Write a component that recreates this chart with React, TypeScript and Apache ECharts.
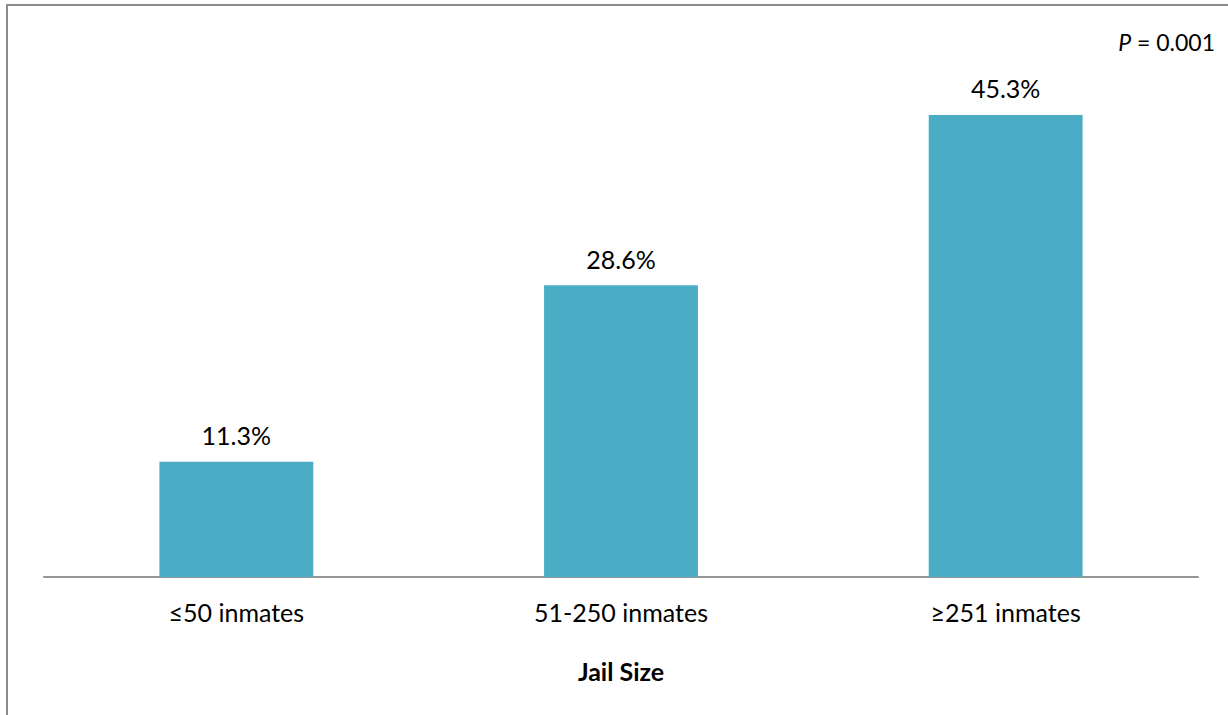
import React, { useEffect, useRef } from "react";
import * as echarts from "echarts";

const categories = ["≤50 inmates", "51-250 inmates", "≥251 inmates"];
const values = [11.3, 28.6, 45.3];
const axisTitle = "Jail Size";
const pValue = "0.001";

export default function App() {
  const ref = useRef<HTMLDivElement>(null);
  useEffect(() => {
    if (!ref.current) return;
    const chart = echarts.init(ref.current, null, { renderer: "svg" });
    const font = "Lato, 'Open Sans', sans-serif";
    chart.setOption({
      animation: false,
      backgroundColor: "#ffffff",
      grid: { left: 44, right: 30, top: 67, bottom: 138 },
      xAxis: {
        type: "category",
        data: categories,
        axisLine: { lineStyle: { color: "#969696", width: 2 } },
        axisTick: { show: false },
        axisLabel: { color: "#000", fontSize: 25, fontFamily: font, margin: 22 },
        name: axisTitle,
        nameLocation: "middle",
        nameGap: 81,
        nameTextStyle: { color: "#000", fontSize: 25, fontWeight: "bold", fontFamily: font },
      },
      yAxis: {
        type: "value",
        min: 0,
        max: 50,
        show: false,
      },
      series: [
        {
          type: "bar",
          data: values,
          barWidth: "40%",
          itemStyle: { color: "#4bacc6" },
          label: {
            show: true,
            position: "top",
            distance: 14,
            color: "#000",
            fontSize: 25,
            fontFamily: font,
            formatter: (p: any) => p.value.toFixed(1) + "%",
          },
        },
      ],
      graphic: [
        {
          type: "rect",
          shape: { x: 7, y: 5, width: 1240, height: 740 },
          style: { fill: "none", stroke: "#8c8c8c", lineWidth: 2 },
          silent: true,
        },
        {
          type: "text",
          right: 13,
          top: 30,
          style: {
            rich: {
              i: { fontStyle: "italic", fontSize: 23, fontFamily: font, fill: "#000" },
              n: { fontSize: 23, fontFamily: font, fill: "#000" },
            },
            text: "{i|P}{n| = " + pValue + "}",
          },
        },
      ],
    });
    return () => chart.dispose();
  }, []);
  return (
    <div
      ref={ref}
      style={{ position: "absolute", left: 0, top: 0, width: 1228, height: 715 }}
    />
  );
}
